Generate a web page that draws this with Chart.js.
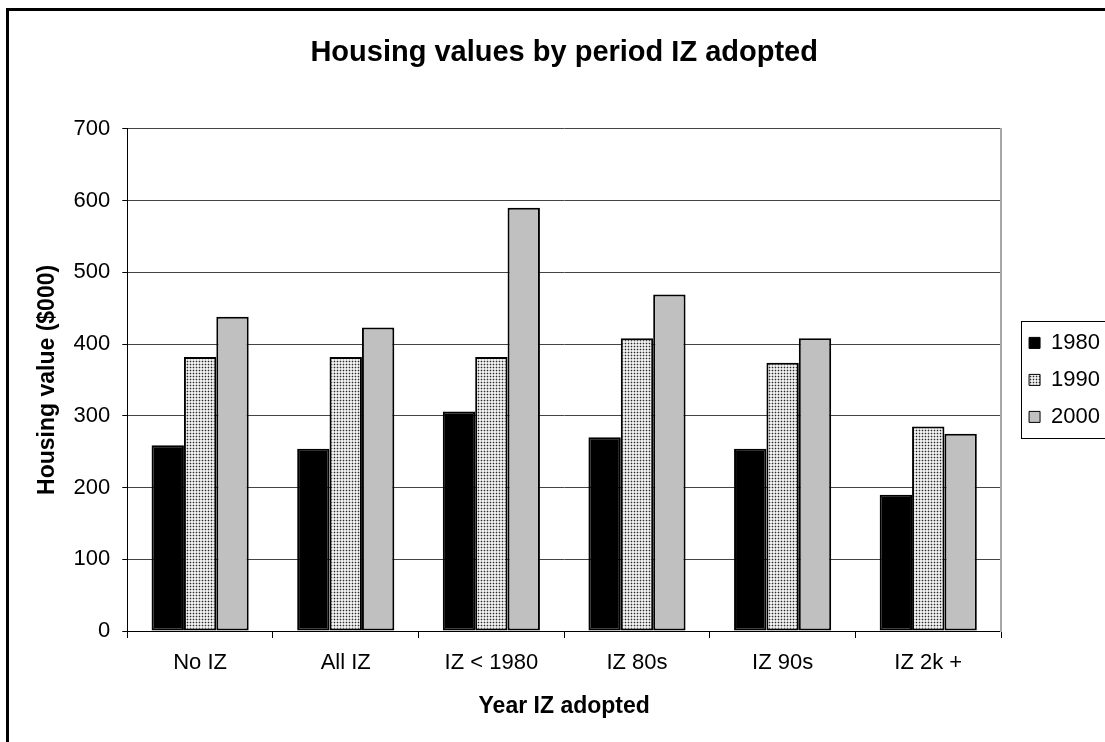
<!DOCTYPE html>
<html>
<head>
<meta charset="utf-8">
<script src="https://cdn.jsdelivr.net/npm/chart.js@4"></script>
<style>
  html, body { margin: 0; padding: 0; overflow: hidden; background: #fff; }
  canvas { display: block; }
</style>
</head>
<body>
<canvas id="myChart" width="1112" height="742"></canvas>
<script>
// values ($000)
const categories = ["No IZ", "All IZ", "IZ < 1980", "IZ 80s", "IZ 90s", "IZ 2k +"];
const seriesNames = ["1980", "1990", "2000"];
const values1980 = [259, 254, 306, 270, 254, 190];
const values1990 = [382, 382, 382, 408, 374, 285];
const values2000 = [438, 423, 590, 469, 408, 275];
const yMin = 0;
const yMax = 700;
const yStep = 100;

Chart.defaults.font.family = "'Liberation Sans', Arial, sans-serif";
Chart.defaults.color = '#000';

// dotted fill for the 1990 bars
function dotPattern() {
  const c = document.createElement('canvas');
  c.width = 3;
  c.height = 3;
  const g = c.getContext('2d');
  g.fillStyle = '#f0f0f0';
  g.fillRect(0, 0, 3, 3);
  g.fillStyle = '#bcbcbc';
  g.fillRect(0, 1, 3, 1);
  g.fillRect(1, 0, 1, 3);
  g.fillStyle = '#2a2a2a';
  g.fillRect(1, 1, 1, 1);
  return g.createPattern(c, 'repeat');
}

const fills = ['#000000', dotPattern(), '#c0c0c0'];
const seriesValues = [values1980, values1990, values2000];

// outer frame + box around the legend
const framePlugin = {
  id: 'frame',
  beforeDraw(chart) {
    const ctx = chart.ctx;
    ctx.save();
    ctx.fillStyle = '#fff';
    ctx.fillRect(0, 0, chart.width, chart.height);
    ctx.fillStyle = '#000';
    ctx.fillRect(6, 8, 3, chart.height);
    ctx.fillRect(6, 8, chart.width, 3);
    ctx.restore();
  },
  afterDraw(chart) {
    const lg = chart.legend;
    const boxes = lg && lg.legendHitBoxes;
    if (!boxes || !boxes.length) return;
    const first = boxes[0];
    const last = boxes[boxes.length - 1];
    const ctx = chart.ctx;
    const x = Math.round(lg.left + 7) + 0.5;
    const y = Math.round(first.top - 11) + 0.5;
    const h = Math.round(last.top + last.height + 10 - (first.top - 11));
    ctx.save();
    ctx.strokeStyle = '#000';
    ctx.lineWidth = 1;
    ctx.strokeRect(x, y, chart.width, h);
    ctx.restore();
  }
};

let config = {
  type: 'bar',
  data: {
    labels: categories,
    datasets: seriesNames.map((name, i) => ({
      label: name,
      data: seriesValues[i],
      backgroundColor: fills[i],
      borderColor: '#000',
      borderWidth: 2,
      borderSkipped: false,
      categoryPercentage: 0.667,
      barPercentage: 1.0,
    })),
  },
  options: {
    responsive: false,
    animation: false,
    layout: {
      padding: { left: 34, top: 10, right: 2, bottom: 18 }
    },
    plugins: {
      title: {
        display: true,
        text: 'Housing values by period IZ adopted',
        color: '#000',
        fullSize: false,
        font: { size: 29, weight: 'bold' },
        padding: { top: 26, bottom: 58 }
      },
      legend: {
        position: 'right',
        fullSize: false,
        labels: {
          boxWidth: 11,
          boxHeight: 11,
          padding: 15,
          color: '#000',
          font: { size: 22 },
          generateLabels(chart) {
            return Chart.defaults.plugins.legend.labels.generateLabels(chart)
              .map(l => Object.assign(l, { lineWidth: 1 }));
          }
        }
      },
      tooltip: { enabled: false }
    },
    scales: {
      x: {
        grid: {
          offset: true,
          drawOnChartArea: false,
          tickLength: 7,
          color: '#000'
        },
        border: { color: '#000', width: 1 },
        ticks: {
          color: '#000',
          font: { size: 22 },
          padding: 12,
          maxRotation: 0
        },
        title: {
          display: true,
          text: 'Year IZ adopted',
          color: '#000',
          font: { size: 23, weight: 'bold' },
          padding: 4
        }
      },
      y: {
        min: yMin,
        max: yMax,
        ticks: {
          stepSize: yStep,
          color: '#000',
          font: { size: 22 },
          padding: 12
        },
        grid: {
          color: '#444',
          tickLength: 5,
          tickColor: '#000'
        },
        border: { color: '#000', width: 1 },
        title: {
          display: true,
          text: 'Housing value ($000)',
          color: '#000',
          font: { size: 23, weight: 'bold' },
          padding: 0
        }
      },
      // empty right axis: only gives the grey plot edge and a gap before the legend
      y2: {
        type: 'linear',
        position: 'right',
        display: true,
        ticks: { display: false },
        grid: { display: false },
        border: { display: true, color: '#a6a6a6', width: 2 },
        afterFit(scale) { scale.width = 13; }
      }
    }
  },
  plugins: [framePlugin]
};

const ctx = document.getElementById('myChart').getContext('2d');
const myChart = new Chart(ctx, config);
</script>
</body>
</html>
